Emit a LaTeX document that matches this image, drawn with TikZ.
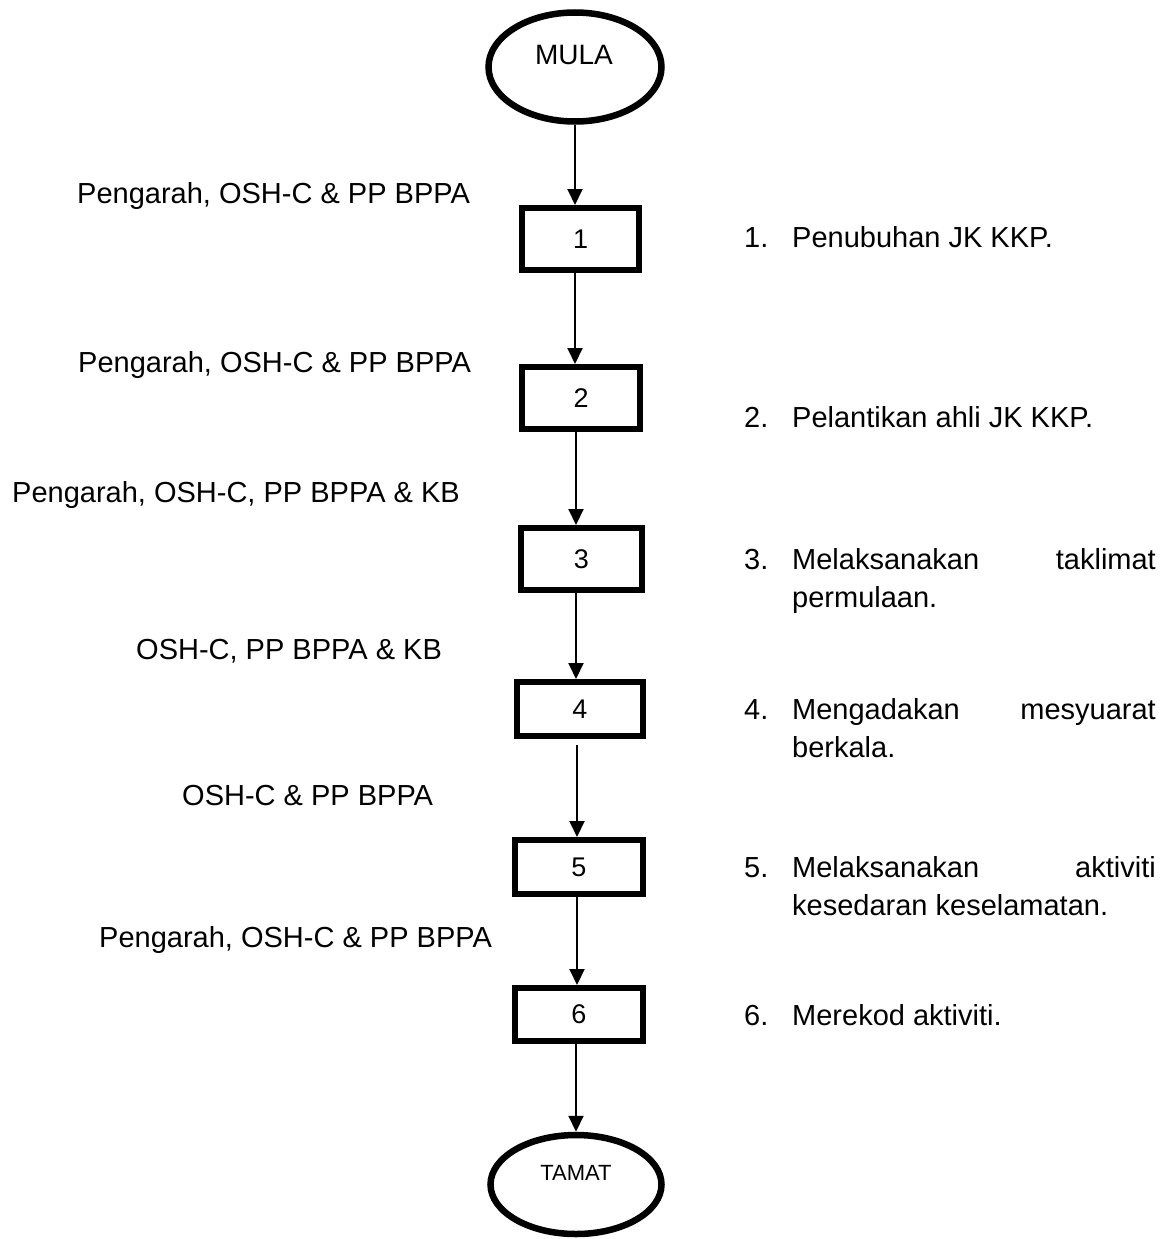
\documentclass[tikz,border=0pt]{standalone}
\usepackage{fontspec}
\setmainfont{Liberation Sans}
\usetikzlibrary{arrows.meta,shapes.geometric}
\begin{document}
\begin{tikzpicture}[x=1pt,y=-1pt,
  term/.style={ellipse,draw,line width=6.5pt,inner sep=0pt},
  stepbox/.style={rectangle,draw,line width=6pt,inner sep=0pt,font=\fontsize{27}{32}\selectfont},
  arr/.style={line width=2pt,-{Triangle[width=15pt,length=16pt]}},
  txt/.style={anchor=base west,inner sep=0pt,font=\fontsize{29}{35}\selectfont},
  txtr/.style={anchor=base east,inner sep=0pt,font=\fontsize{29}{35}\selectfont}
]
\fill[white] (0,0) rectangle (1165,1239);
\useasboundingbox (0,0) rectangle (1165,1239);

% terminals
\node[term,minimum width=173pt,minimum height=109pt] (mula) at (575,67) {};
\node[inner sep=0pt,font=\fontsize{28}{32}\selectfont] (mulat) at (574,55) {MULA};
\node[term,minimum width=171pt,minimum height=99pt] (tamat) at (576,1184.5) {};
\node[inner sep=0pt,font=\fontsize{22}{26}\selectfont] (tamatt) at (576,1173) {TAMAT};

% steps
\node[stepbox,minimum width=117pt,minimum height=62pt] (b1) at (580.5,239) {1};
\node[stepbox,minimum width=118pt,minimum height=62pt] (b2) at (581,398) {2};
\node[stepbox,minimum width=121pt,minimum height=62pt] (b3) at (581.5,559) {3};
\node[stepbox,minimum width=126pt,minimum height=54pt] (b4) at (580,709) {4};
\node[stepbox,minimum width=128pt,minimum height=54pt] (b5) at (579,867) {5};
\node[stepbox,minimum width=128pt,minimum height=53pt] (b6) at (579,1014.5) {6};

% connectors
\draw[arr] (mula.south) -- (mula.south |- b1.north);
\draw[arr] (b1.south -| mula.south) -- (b2.north -| mula.south);
\draw[arr] ([xshift=1pt]b2.south -| mula.south) -- ([xshift=1pt]b3.north -| mula.south);
\draw[arr] ([xshift=1pt]b3.south -| mula.south) -- ([xshift=1pt]b4.north -| mula.south);
\draw[arr] ([xshift=2pt,yshift=-6pt]b4.south -| mula.south) -- ([xshift=2pt]b5.north -| mula.south);
\draw[arr] ([xshift=2pt]b5.south -| mula.south) -- ([xshift=2pt]b6.north -| mula.south);
\draw[arr] ([xshift=1pt]b6.south -| mula.south) -- ([xshift=1pt]tamat.north -| mula.south);

% responsible parties
\node[txt] (w1) at (77,203) {Pengarah, OSH-C \& PP BPPA};
\node[txt] (w2) at (78,372) {Pengarah, OSH-C \& PP BPPA};
\node[txt] (w3) at (12,502) {Pengarah, OSH-C, PP BPPA \& KB};
\node[txt] (w4) at (136,659) {OSH-C, PP BPPA \& KB};
\node[txt] (w5) at (182,805) {OSH-C \& PP BPPA};
\node[txt] (w6) at (99,947) {Pengarah, OSH-C \& PP BPPA};

% descriptions
\node[txt] (n1) at (744,247) {1.};
\node[txt] (d1) at (792,247) {Penubuhan JK KKP.};
\node[txt] (n2) at (744,427) {2.};
\node[txt] (d2) at (792,427) {Pelantikan ahli JK KKP.};
\node[txt] (n3) at (744,569) {3.};
\node[txt] (d3a) at (792,569) {Melaksanakan};
\node[txtr] (d3b) at (1156,569) {taklimat};
\node[txt] (d3c) at (792,607) {permulaan.};
\node[txt] (n4) at (744,719) {4.};
\node[txt] (d4a) at (792,719) {Mengadakan};
\node[txtr] (d4b) at (1156,719) {mesyuarat};
\node[txt] (d4c) at (792,757) {berkala.};
\node[txt] (n5) at (744,877) {5.};
\node[txt] (d5a) at (792,877) {Melaksanakan};
\node[txtr] (d5b) at (1156,877) {aktiviti};
\node[txt] (d5c) at (792,915) {kesedaran keselamatan.};
\node[txt] (n6) at (744,1025) {6.};
\node[txt] (d6) at (792,1025) {Merekod aktiviti.};
\end{tikzpicture}
\end{document}
